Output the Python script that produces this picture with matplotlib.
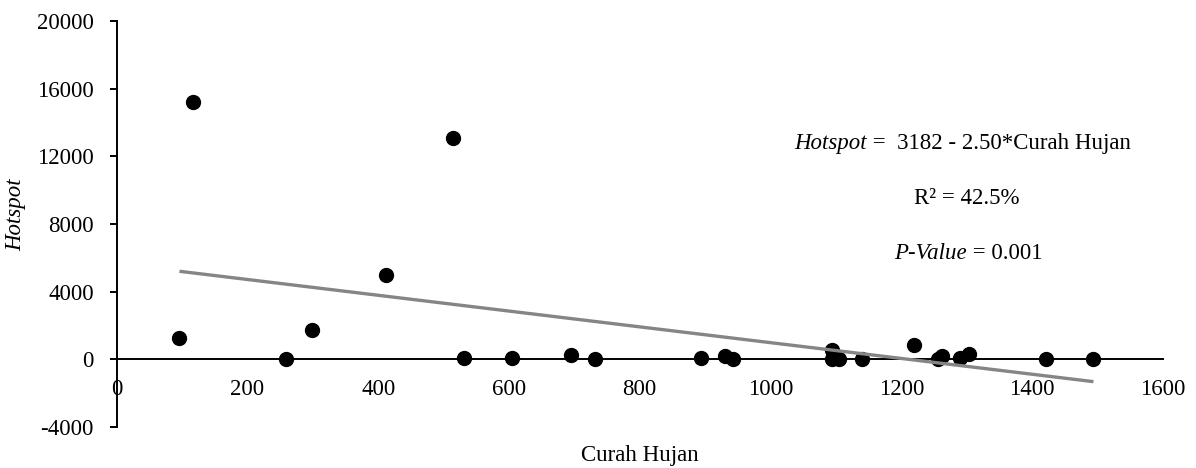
import matplotlib
matplotlib.use("Agg")
import matplotlib.pyplot as plt
import numpy as np

plt.rcParams['font.family'] = ['Liberation Serif', 'DejaVu Serif']
plt.rcParams['axes.unicode_minus'] = False

# Curah hujan vs jumlah hotspot
curah_hujan = [96, 116, 259, 299, 412, 514, 531, 605, 695, 732, 893, 931, 943,
               1094, 1094, 1105, 1140, 1219, 1256, 1262, 1290, 1304, 1422, 1494]
hotspot = [1250, 15200, 0, 1720, 4980, 13060, 60, 60, 256, 10, 80, 220, 30,
           550, 20, 40, 10, 850, 10, 200, 100, 290, 10, 40]

x_ticks = [0, 200, 400, 600, 800, 1000, 1200, 1400, 1600]
y_ticks = [-4000, 0, 4000, 8000, 12000, 16000, 20000]

fs = 16.5

fig = plt.figure(figsize=(11.96, 4.68), dpi=100)
ax = fig.add_axes([0.0976, 0.0876, 0.8746, 0.8675])

x = np.array(curah_hujan, dtype=float)
y = np.array(hotspot, dtype=float)

# trendline (least squares)
slope, intercept = np.polyfit(x, y, 1)
xl = np.array([x.min(), x.max()])
ax.plot(xl, intercept + slope * xl, color='#858585', lw=2.4, zorder=3,
        solid_capstyle='butt')

ax.plot(x, y, 'o', color='black', ms=10, zorder=2, clip_on=False)

ax.set_xlim(0, 1600)
ax.set_ylim(-4000, 20000)
ax.set_xticks(x_ticks)
ax.set_yticks(y_ticks)

ax.spines['top'].set_visible(False)
ax.spines['right'].set_visible(False)
ax.spines['bottom'].set_position(('data', 0))
ax.spines['bottom'].set_linewidth(1.4)
ax.spines['left'].set_linewidth(1.4)
ax.spines['bottom'].set_zorder(1)

ax.tick_params(axis='x', length=0, pad=14.5, labelsize=fs)
ax.tick_params(axis='y', length=5, width=1.4, pad=11.5, labelsize=fs, direction='out')

ax.set_xlabel('Curah Hujan', fontsize=fs)
ax.xaxis.set_label_coords(0.5, -0.044)
ax.set_ylabel('Hotspot', fontsize=fs, style='italic')
ax.yaxis.set_label_coords(-0.0867, 0.522)


def mixed(xpos, ypos, italic, normal):
    ax.text(xpos, ypos, italic, style='italic', fontsize=fs, ha='right', va='center')
    ax.text(xpos, ypos, normal, fontsize=fs, ha='left', va='center')


mixed(1147, 12780, 'Hotspot', ' =  3182 - 2.50*Curah Hujan')
ax.text(1300, 9530, 'R² = 42.5%', fontsize=fs, ha='center', va='center')
mixed(1300, 6280, 'P-Value', ' = 0.001')

fig.savefig('out.png', dpi=100)
